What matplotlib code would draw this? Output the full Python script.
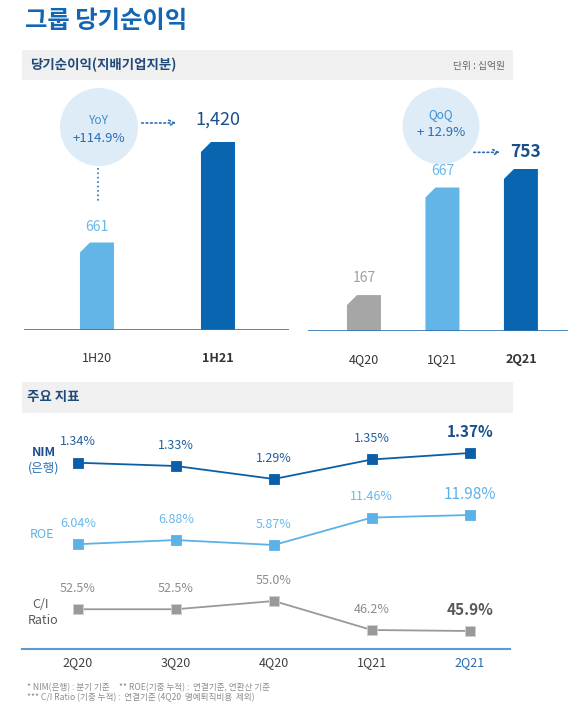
import matplotlib
matplotlib.use('Agg')
import matplotlib.pyplot as plt
from matplotlib.patches import Polygon, Circle, Rectangle

plt.rcParams['font.family'] = ['Noto Sans CJK KR', 'DejaVu Sans']

W, H = 580, 726

# data
half_labels = ['1H20', '1H21']
half_values = [661, 1420]
q_labels = ['4Q20', '1Q21', '2Q21']
q_values = [167, 667, 753]
kpi_labels = ['2Q20', '3Q20', '4Q20', '1Q21', '2Q21']
nim = [1.34, 1.33, 1.29, 1.35, 1.37]
roe = [6.04, 6.88, 5.87, 11.46, 11.98]
ci = [52.5, 52.5, 55.0, 46.2, 45.9]

LIGHT = '#63b5e8'
DARK = '#0a65b0'
GRAY = '#a6a6a6'
NAVY = '#1f4a7a'


def px_axes(fig, x0, y0, x1, y1):
    # box in pixels, origin top-left
    return fig.add_axes([x0 / W, 1 - y1 / H, (x1 - x0) / W, (y1 - y0) / H])


def chamfer_bars(ax, values, colors, width, cut=10):
    bb = ax.get_position()
    xr = ax.get_xlim()[1] - ax.get_xlim()[0]
    yr = ax.get_ylim()[1] - ax.get_ylim()[0]
    dx = cut * xr / (bb.width * W)
    dy = cut * yr / (bb.height * H)
    for i, (v, c) in enumerate(zip(values, colors)):
        l, r = i - width / 2, i + width / 2
        verts = [(l, 0), (l, v - dy), (l + dx, v), (r, v), (r, 0)]
        ax.add_patch(Polygon(verts, closed=True, facecolor=c, edgecolor='none'))


def setup_bar_axes(ax, labels):
    for s in ax.spines.values():
        s.set_visible(False)
    ax.axhline(0, color='#2f75b5', lw=1.2)
    ax.set_yticks([])
    ax.set_xticks(range(len(labels)), labels)
    ax.tick_params(axis='x', length=0, pad=16, labelsize=9, labelcolor='#333333')
    ax.get_xticklabels()[-1].set_fontweight('bold')
    ax.patch.set_visible(False)


def band_ylim(ax, lo, hi, top=420, bot=649):
    (v_lo, p_lo), (v_hi, p_hi) = lo, hi
    s = (p_lo - p_hi) / (v_hi - v_lo)
    ax.set_ylim(v_lo - (bot - p_lo) / s, v_hi + (p_hi - top) / s)


def px_y(ax, xv, yv):
    # data point -> overlay pixel y (top-left origin)
    return H - ax.transData.transform((xv, yv))[1]


fig = plt.figure(figsize=(W / 100, H / 100), dpi=100)

# overlay in pixel coords for headers and decorations
ov = fig.add_axes([0, 0, 1, 1])
ov.set_xlim(0, W)
ov.set_ylim(H, 0)
ov.axis('off')

ov.text(25, 21, '그룹 당기순이익', fontsize=17.5, fontweight='bold', color='#1366b3', va='center')
ov.add_patch(Rectangle((22, 50), 491, 30, facecolor='#f0f0f0', edgecolor='none'))
ov.text(30, 65, '당기순이익(지배기업지분)', fontsize=9.7, fontweight='bold', color=NAVY, va='center')
ov.text(505, 66, '단위 : 십억원', fontsize=7, color='#666666', va='center', ha='right')
ov.add_patch(Rectangle((22, 382), 491, 31, facecolor='#f0f0f0', edgecolor='none'))
ov.text(27, 397, '주요 지표', fontsize=9.7, fontweight='bold', color=NAVY, va='center')

# half-year bars
ax1 = px_axes(fig, 24, 100, 289, 330)
ax1.set_xlim(-0.603, 1.587)
ax1.set_ylim(0, 1420 * 230 / 188)
setup_bar_axes(ax1, half_labels)
chamfer_bars(ax1, half_values, [LIGHT, DARK], 0.281)
ax1.annotate(f'{half_values[0]:,}', (0, half_values[0]), xytext=(0, 11), textcoords='offset points',
             ha='center', va='center', fontsize=10, color='#6ab8ea')
ax1.annotate(f'{half_values[1]:,}', (1, half_values[1]), xytext=(0, 16), textcoords='offset points',
             ha='center', va='center', fontsize=13, color='#1a4f8a')

# quarterly bars
ax2 = px_axes(fig, 308, 100, 568, 331)
ax2.set_xlim(-0.713, 2.6)
ax2.set_ylim(0, 753 * 231 / 162)
setup_bar_axes(ax2, q_labels)
chamfer_bars(ax2, q_values, [GRAY, LIGHT, DARK], 0.433)
q_lab_col = ['#a0a0a0', '#6ab8ea', '#1a4f8a']
for i, v in enumerate(q_values):
    last = i == len(q_values) - 1
    ax2.annotate(f'{v:,}', (i, v), xytext=(3 if last else 0, 12), textcoords='offset points',
                 ha='center', va='center',
                 fontsize=12.5 if last else 10, fontweight='bold' if last else 'normal',
                 color=q_lab_col[i])

# YoY bubble
ov.add_patch(Circle((99, 127), 39, facecolor='#ddecf7', edgecolor='none'))
ov.text(99, 121, 'YoY', fontsize=8.5, color='#3a8fd0', ha='center', va='center')
ov.text(99, 138, '+114.9%', fontsize=9.5, color='#2a6db5', ha='center', va='center')
ov.plot([98, 98], [168, 201], ls=':', color='#2a6db5', lw=1.2)
ov.annotate('', xy=(179, 123), xytext=(139, 123),
            arrowprops=dict(arrowstyle='->', ls=':', color='#2a6db5', lw=1.2))

# QoQ bubble, arrow aimed at the 2Q21 label
ov.add_patch(Circle((441, 126), 38.5, facecolor='#ddecf7', edgecolor='none'))
ov.text(441, 115, 'QoQ', fontsize=8.5, color='#3a8fd0', ha='center', va='center')
ov.text(441, 133, '+ 12.9%', fontsize=9.5, color='#2a6db5', ha='center', va='center')
ya = px_y(ax2, 2, q_values[-1]) - 12 * 100 / 72
xa = 441 + (38.5 ** 2 - (ya - 126) ** 2) ** 0.5 + 2
ov.annotate('', xy=(503, ya), xytext=(xa, ya),
            arrowprops=dict(arrowstyle='->', ls=':', color='#2a6db5', lw=1.2))

# key indicators
series = [
    (nim, '#0a5fa8', '#1f5f9f', '#1a4f8a', ((1.29, 479), (1.37, 453)), '{:.2f}%'),
    (roe, '#5cb2e6', '#6ab8ea', '#5cb2e6', ((5.87, 545), (11.98, 515)), '{:.2f}%'),
    (ci, '#999999', '#8c8c8c', '#595959', ((45.9, 631), (55.0, 601)), '{:.1f}%'),
]
x = list(range(len(kpi_labels)))
for k, (vals, lc, tc, tlast, cal, fmt) in enumerate(series):
    ax = px_axes(fig, 22, 420, 510, 649)
    ax.set_xlim(-0.571, 4.41)
    band_ylim(ax, *cal)
    ax.patch.set_visible(False)
    ax.plot(x, vals, color=lc, lw=1.3, marker='s', markersize=6.5,
            markerfacecolor=lc, markeredgecolor='#d0d0d0' if k == 2 else lc, markeredgewidth=0.6)
    for i, v in enumerate(vals):
        last = i == len(vals) - 1
        ax.annotate(fmt.format(v), (i, v), xytext=(0, 15), textcoords='offset points',
                    ha='center', va='center', fontsize=11 if last else 9,
                    fontweight='bold' if (last and k != 1) else 'normal',
                    color=tlast if last else tc)
    for s in ['top', 'left', 'right']:
        ax.spines[s].set_visible(False)
    ax.set_yticks([])
    if k == 2:
        ax.spines['bottom'].set_color('#5b9bd5')
        ax.spines['bottom'].set_linewidth(1.5)
        ax.set_xticks(x, kpi_labels)
        ax.tick_params(axis='x', length=0, pad=5, labelsize=9, labelcolor='#404040')
        ax.get_xticklabels()[-1].set_color('#2668b0')
    else:
        ax.spines['bottom'].set_visible(False)
        ax.set_xticks([])

# row labels
ov.text(32, 452, 'NIM', fontsize=9, fontweight='bold', color='#1f4e8a', va='center')
ov.text(28, 468, '(은행)', fontsize=9, color='#2e6fb3', va='center')
ov.text(30, 534, 'ROE', fontsize=9, color='#5cb2e6', va='center')
ov.text(32, 605, 'C/I', fontsize=9, color='#595959', va='center')
ov.text(28, 620, 'Ratio', fontsize=9, color='#595959', va='center')

# footnotes
ov.text(27, 688, '* NIM(은행) : 분기 기준     ** ROE(기중 누적) :  연결기준, 연환산 기준',
        fontsize=6.2, color='#8c8c8c', va='center')
ov.text(27, 698, '*** C/I Ratio (기중 누적) :  연결기준 (4Q20  명예퇴직비용  제외)',
        fontsize=6.2, color='#8c8c8c', va='center')

fig.savefig('out.png', dpi=100)
